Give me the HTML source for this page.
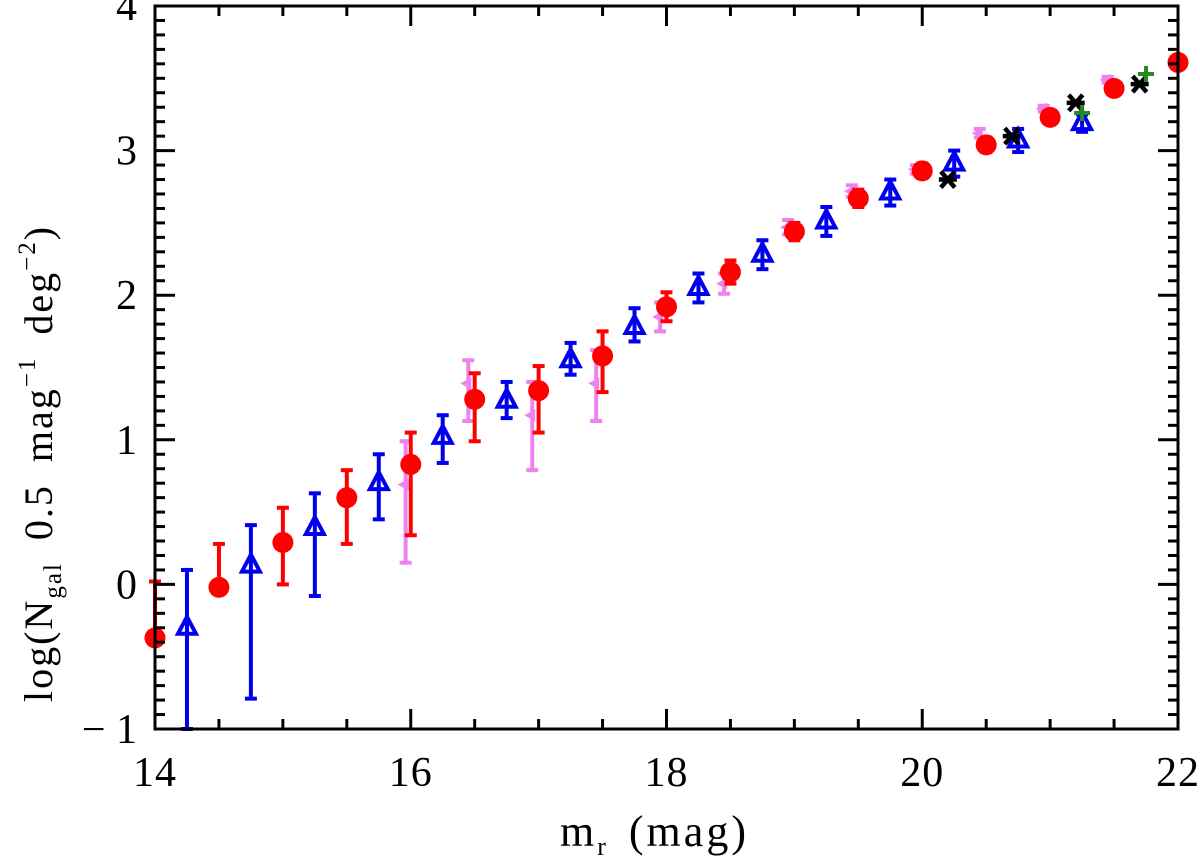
<!DOCTYPE html>
<html><head><meta charset="utf-8"><style>
html,body{margin:0;padding:0;background:#fff;}
svg{display:block;font-family:"Liberation Serif","DejaVu Serif",serif;}
</style></head><body>
<svg id="chart" width="1200" height="858" viewBox="0 0 1200 858" xmlns="http://www.w3.org/2000/svg">
<g id="marks"></g>
<g id="axes"></g>
<text x="560" y="846" style="font-size:44px" letter-spacing="3">m<tspan style="font-size:26px" dy="9">r</tspan><tspan dy="-9" dx="20">(mag)</tspan></text>
<text transform="translate(52,702) rotate(-90)" style="font-size:40px" letter-spacing="2">log(N<tspan style="font-size:25px" dy="9">gal</tspan><tspan dy="-9" dx="22">0.5</tspan><tspan dx="22">mag</tspan><tspan style="font-size:25px" dy="-17">−1</tspan><tspan dy="17" dx="22">deg</tspan><tspan style="font-size:25px" dy="-17">−2</tspan><tspan dy="17">)</tspan></text>
</svg>
<script>
// ---- data ----
const redMag = [14.0,14.5,15.0,15.5,16.0,16.5,17.0,17.5,18.0,18.5,19.0,19.5,20.0,20.5,21.0,21.5,22.0];
const redVal = [-0.37,-0.02,0.29,0.60,0.83,1.28,1.34,1.58,1.92,2.16,2.44,2.67,2.86,3.04,3.23,3.43,3.61];
const redHi  = [0.02,0.28,0.53,0.79,1.05,1.46,1.51,1.75,2.02,2.24,2.50,2.73,2.91,3.09,3.27,3.46,3.64];
const redLo  = [-0.37,-0.02,0.00,0.28,0.34,0.99,1.05,1.33,1.82,2.08,2.38,2.61,2.81,2.99,3.19,3.40,3.58];
const blueMag = [14.25,14.75,15.25,15.75,16.25,16.75,17.25,17.75,18.25,18.75,19.25,19.75,20.25,20.75,21.25];
const blueVal = [-0.30,0.13,0.39,0.70,1.02,1.27,1.55,1.78,2.05,2.28,2.51,2.71,2.91,3.07,3.19];
const blueHi  = [0.10,0.41,0.63,0.90,1.17,1.40,1.67,1.91,2.15,2.38,2.61,2.80,3.00,3.15,3.25];
const blueLo  = [-1.05,-0.79,-0.08,0.45,0.84,1.15,1.45,1.68,1.95,2.18,2.41,2.62,2.82,2.99,3.13];
const pinkMag = [15.96,16.45,16.95,17.45,17.95,18.45,18.95,19.45,19.95,20.45,20.95,21.45];
const pinkVal = [0.69,1.39,1.17,1.39,1.85,2.08,2.47,2.72,2.87,3.12,3.29,3.49];
const pinkHi  = [0.99,1.55,1.40,1.62,1.95,2.15,2.52,2.76,2.90,3.15,3.31,3.51];
const pinkLo  = [0.15,1.13,0.79,1.13,1.75,2.01,2.42,2.68,2.84,3.09,3.27,3.47];
const starMag = [20.2,20.7,21.2,21.7];
const starVal = [2.80,3.10,3.33,3.46];
const plusMag = [21.25,21.75];
const plusVal = [3.26,3.53];
const xTicks = [14,16,18,20,22];
const yTicks = [-1,0,1,2,3,4];

// ---- axes functions ----
const X0=155,X1=1178,Y0=729,Y1=6;
const xs = m => X0 + (m-14)/(22-14)*(X1-X0);
const ys = v => Y0 - (v+1)/5*(Y0-Y1);
const NS='http://www.w3.org/2000/svg';
const marks=document.getElementById('marks'), axes=document.getElementById('axes');
function mk(tag, attrs, parent){const e=document.createElementNS(NS,tag);for(const k in attrs)e.setAttribute(k,attrs[k]);parent.appendChild(e);return e;}
const clamp = v => Math.max(Y1, Math.min(Y0, v));

function errbar(x, hi, lo, color, w, cap){
  const g=mk('g',{},marks);
  
  
  const yh=clamp(ys(hi)), yl=clamp(ys(lo));
  mk('line',{x1:x,x2:x,y1:yh,y2:yl,stroke:color,'stroke-width':w},g);
  mk('line',{x1:x-cap,x2:x+cap,y1:yh,y2:yh,stroke:color,'stroke-width':w},g);
  mk('line',{x1:x-cap,x2:x+cap,y1:yl,y2:yl,stroke:color,'stroke-width':w},g);
}

pinkMag.forEach((m,i)=>{
  const x=xs(m);
  errbar(x,pinkHi[i],pinkLo[i],'#ee82ee',4,6);
  const y=ys(pinkVal[i]);
  const p=mk('polygon',{points:`${x-8},${y} ${x+3},${y-6} ${x+3},${y+6}`,fill:'#ee82ee'},marks);
  
  
});
redMag.forEach((m,i)=>{
  const x=xs(m);
  errbar(x,redHi[i],redLo[i],'#ff0000',4,6);
  const c=mk('circle',{cx:x,cy:ys(redVal[i]),r:10.5,fill:'#ff0000'},marks);
  
  
});
blueMag.forEach((m,i)=>{
  const x=xs(m);
  errbar(x,blueHi[i],blueLo[i],'#0000ee',4,6);
  const y=ys(blueVal[i]);
  const t=mk('polygon',{points:`${x},${y-11} ${x+9},${y+6} ${x-9},${y+6}`,fill:'none',stroke:'#0000ee','stroke-width':4},marks);
  
  
});
starMag.forEach((m,i)=>{
  const x=xs(m), y=ys(starVal[i]);
  const g=mk('g',{stroke:'#000','stroke-width':4.5},marks);
  
  
  mk('line',{x1:x-9,x2:x+9,y1:y,y2:y},g);
  mk('line',{x1:x-7,x2:x+7,y1:y-8,y2:y+8},g);
  mk('line',{x1:x-7,x2:x+7,y1:y+8,y2:y-8},g);
});
plusMag.forEach((m,i)=>{
  const x=xs(m), y=ys(plusVal[i]);
  const g=mk('g',{stroke:'#228b22','stroke-width':4},marks);
  
  
  mk('line',{x1:x-8,x2:x+8,y1:y,y2:y},g);
  mk('line',{x1:x,x2:x,y1:y-8,y2:y+8},g);
});

const fr=mk('rect',{x:X0,y:Y1,width:X1-X0,height:Y0-Y1,fill:'none',stroke:'#000','stroke-width':3},axes);


for(let m=14;m<=22.001;m+=0.5){
  const x=xs(m), major=Math.abs(m-Math.round(m))<1e-6 && Math.round(m)%2===0, L=major?20:10;
  mk('line',{x1:x,x2:x,y1:Y0,y2:Y0-L,stroke:'#000','stroke-width':3},axes);
  mk('line',{x1:x,x2:x,y1:Y1,y2:Y1+L,stroke:'#000','stroke-width':3},axes);
}
for(let k=0;k<=50;k++){
  const v=-1+k*0.1, y=ys(v), major=k%10===0, L=major?20:10;
  mk('line',{x1:X0,x2:X0+L,y1:y,y2:y,stroke:'#000','stroke-width':3},axes);
  mk('line',{x1:X1,x2:X1-L,y1:y,y2:y,stroke:'#000','stroke-width':3},axes);
}
xTicks.forEach(t=>{
  const e=mk('text',{x:xs(t),y:786,'text-anchor':'middle',style:'font-size:42px','letter-spacing':'1'},axes);
  
  
  e.textContent=String(t);
});
yTicks.forEach(t=>{
  const e=mk('text',{x:137,y:ys(t)+14,'text-anchor':'end',style:'font-size:42px'},axes);
  
  
  e.textContent=t<0?'− '+Math.abs(t):String(t);
});
</script>
</body></html>
